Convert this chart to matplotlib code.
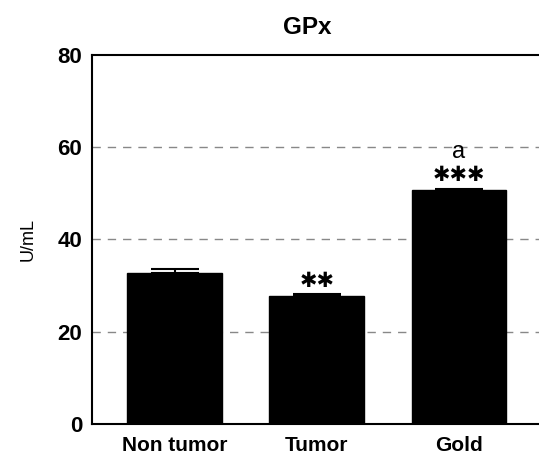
import numpy as np
import matplotlib
matplotlib.use('Agg')
from matplotlib import pyplot as plt

plt.rcParams['font.family'] = ['Liberation Sans', 'DejaVu Sans']

# GPx activity per group
groups = ['Non tumor', 'Tumor', 'Gold']
means = [32.7, 27.8, 50.7]
errs = [0.8, 0.4, 0.3]
stars = ['', '✱✱', '✱✱✱']
letters = ['', '', 'a']

fig = plt.figure(figsize=(5.39, 4.54), dpi=100)
ax = fig.add_axes([0.1707, 0.0661, 0.834, 0.8128])

x = np.arange(len(groups))
ax.bar(x, means, width=0.667, color='black', edgecolor='black', zorder=3)
ax.errorbar(x, means, yerr=[np.zeros(len(errs)), errs], fmt='none',
            ecolor='black', elinewidth=1.5, capsize=17.5, capthick=1.5, zorder=4)

# significance marks above bars
for xi, m, e, s, l in zip(x, means, errs, stars, letters):
    if s:
        ax.text(xi, m + e + 1.6, s, ha='center', va='baseline',
                fontsize=15, family='DejaVu Sans', zorder=5)
    if l:
        ax.text(xi, m + e + 6.6, l, ha='center', va='baseline',
                fontsize=17, zorder=5)

ax.set_xlim(-0.58, 2.58)
ax.set_ylim(0, 80)
ax.set_yticks([0, 20, 40, 60, 80])
ax.set_xticks(x)
ax.set_xticklabels(groups)
ax.tick_params(axis='y', length=0, labelsize=16, pad=7)
ax.tick_params(axis='x', length=0, labelsize=15, pad=9)
for lab in ax.get_xticklabels() + ax.get_yticklabels():
    lab.set_fontweight('bold')

for yv in [20, 40, 60]:
    ax.axhline(yv, color='#888888', lw=1.0, ls=(0, (6, 5)), zorder=1)

for sp in ax.spines.values():
    sp.set_linewidth(1.5)

ax.set_ylabel('U/mL', fontsize=13, labelpad=15)
fig.text(307 / 539, 1 - 28 / 454, 'GPx', ha='center', va='center',
         fontsize=17.5, fontweight='bold')

plt.savefig('out.png', dpi=100)
